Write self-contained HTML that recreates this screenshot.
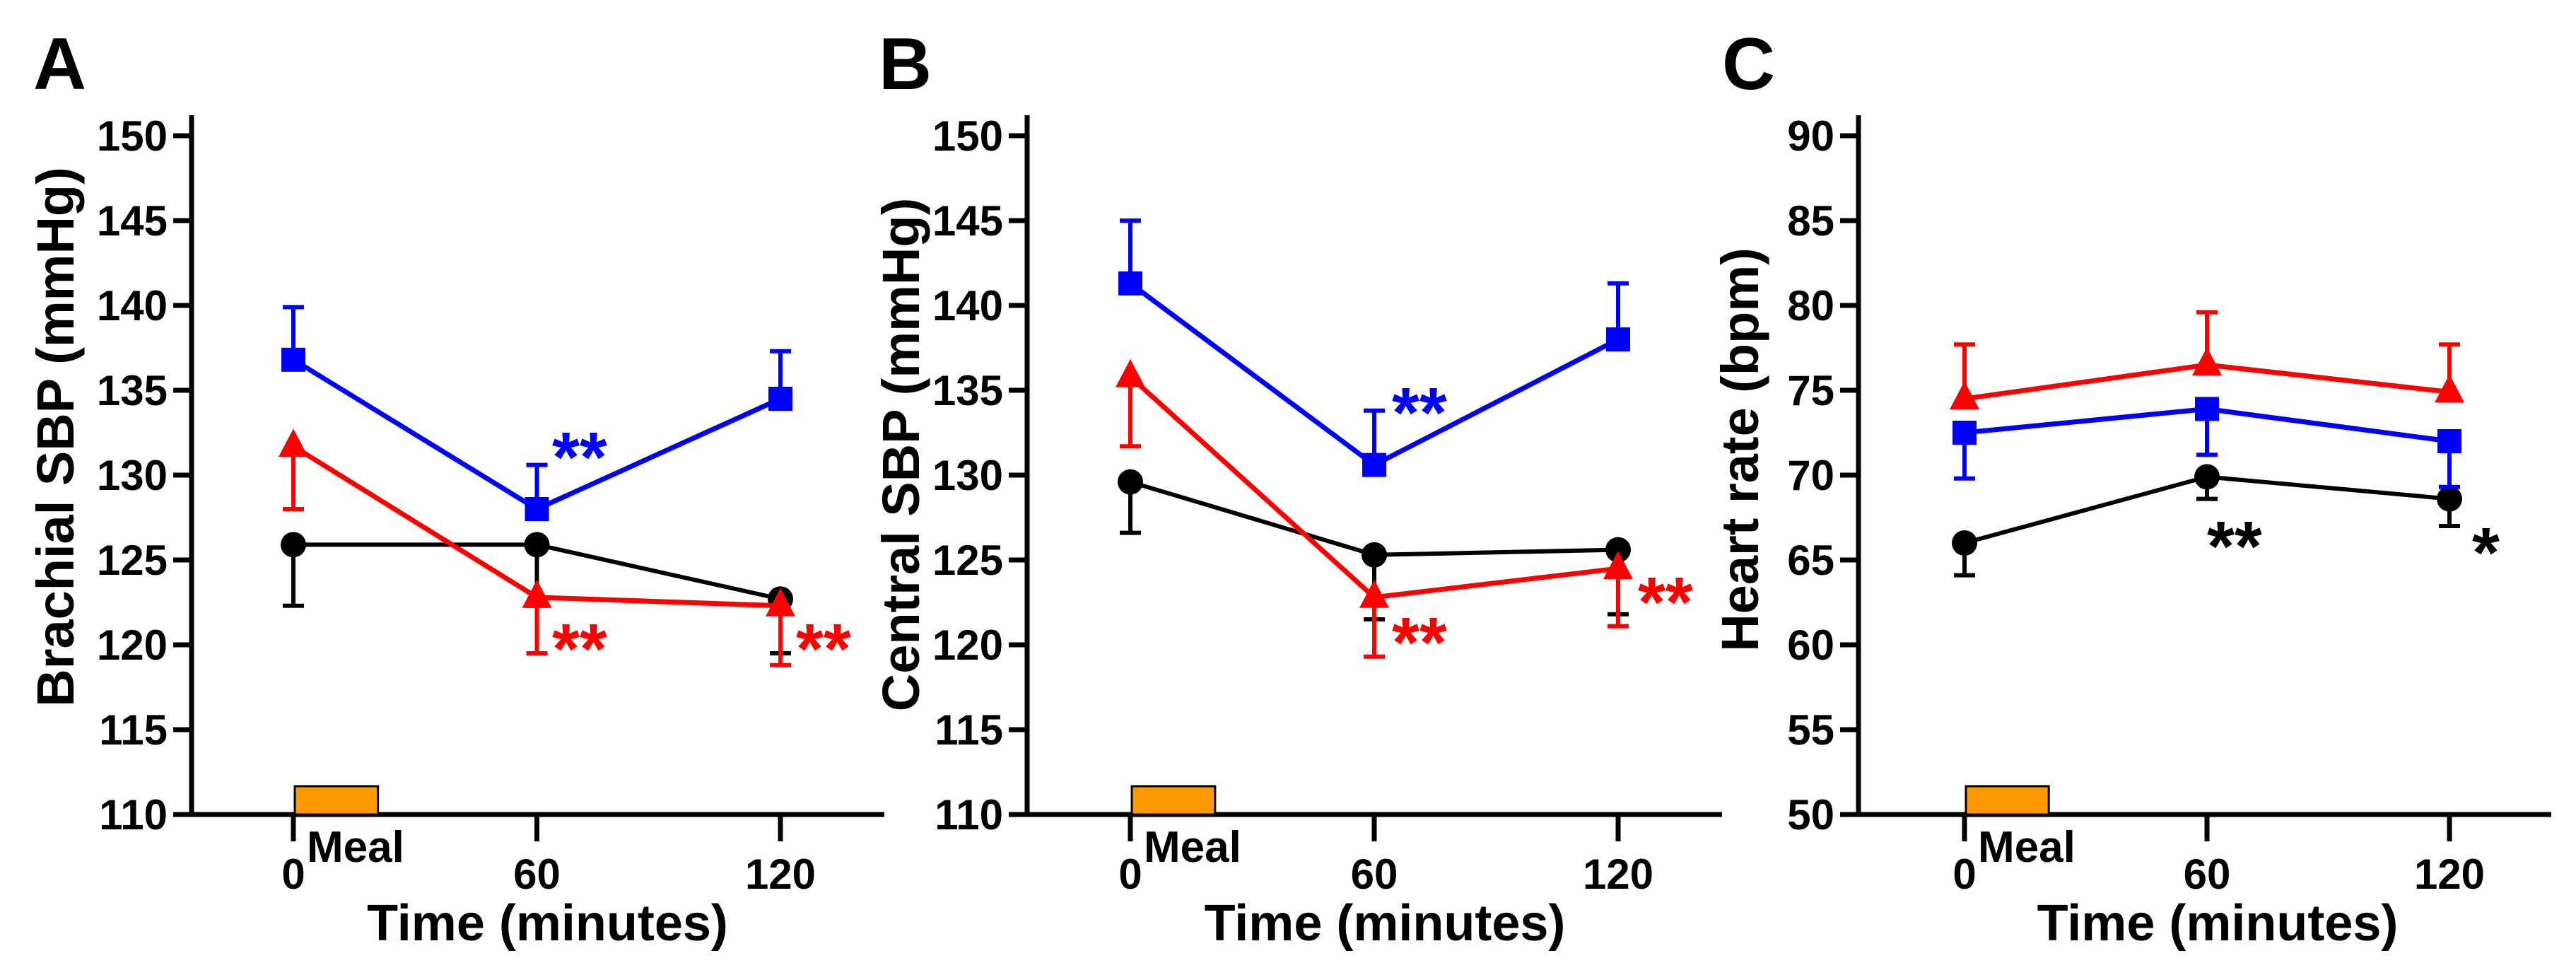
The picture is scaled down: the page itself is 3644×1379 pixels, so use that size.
<!DOCTYPE html>
<html><head><meta charset="utf-8"><style>
html,body{margin:0;padding:0;background:#fff}
svg text{font-family:"Liberation Sans",Arial,sans-serif;font-weight:bold}
</style></head><body>
<svg id="fig" width="3644" height="1374" viewBox="0 0 3644 1374" xmlns="http://www.w3.org/2000/svg"></svg>
<script>
const times = [0, 60, 120];
// Panel A: Brachial SBP
const aBlue = [136.8, 128.0, 134.5];
const aBlueErr = [139.9, 130.6, 137.3];
const aRed = [131.7, 122.8, 122.3];
const aRedErr = [128.0, 119.5, 118.8];
const aBlack = [125.9, 125.9, 122.7];
const aBlackErr = [122.3, 122.3, 119.5];
// Panel B: Central SBP
const bBlue = [141.3, 130.6, 138.0];
const bBlueErr = [145.0, 133.8, 141.3];
const bRed = [135.8, 122.8, 124.5];
const bRedErr = [131.7, 119.3, 121.1];
const bBlack = [129.6, 125.3, 125.6];
const bBlackErr = [126.6, 121.5, 121.8];
// Panel C: Heart rate
const cBlue = [72.5, 73.9, 72.0];
const cBlueErr = [69.8, 71.2, 69.3];
const cRed = [74.5, 76.5, 74.9];
const cRedErr = [77.7, 79.6, 77.7];
const cBlack = [66.0, 69.9, 68.6];
const cBlackErr = [64.1, 68.6, 67.0];
const sbpTicks = [110, 115, 120, 125, 130, 135, 140, 145, 150];
const hrTicks = [50, 55, 60, 65, 70, 75, 80, 85, 90];
const xTicks = [0, 60, 120];

const NS = "http://www.w3.org/2000/svg";
const svg = document.getElementById('fig');
function mk(tag, attrs, parent, txt){
  const e = document.createElementNS(NS, tag);
  for (const k in attrs) e.setAttribute(k, attrs[k]);
  if (txt !== undefined) e.textContent = txt;
  (parent || svg).appendChild(e);
  return e;
}

function panel(cfg){
  const g = mk('g', {});
  
  
  const y0 = 1152, y1 = 192;
  const ymin = cfg.ticks[0], ymax = cfg.ticks[cfg.ticks.length-1];
  const Y = v => y0 + (v - ymin) / (ymax - ymin) * (y1 - y0);
  const X = t => cfg.x0 + t / 60 * cfg.dx;
  const L = mk('text', {x: cfg.lx, y: 126, 'font-size': 104}, g, cfg.letter);
  
  
  const ya = mk('line', {x1: cfg.ax, y1: 163, x2: cfg.ax, y2: y0 + 3.5, stroke: '#000', 'stroke-width': 7}, g);
  
  
  const xa = mk('line', {x1: cfg.ax - 3.5, y1: y0, x2: cfg.xend, y2: y0, stroke: '#000', 'stroke-width': 7}, g);
  
  
  cfg.ticks.forEach(v => {
    mk('line', {x1: cfg.ax - 26, y1: Y(v), x2: cfg.ax, y2: Y(v), stroke: '#000', 'stroke-width': 7}, g);
    const t = mk('text', {x: cfg.ax - 34, y: Y(v) + 21, 'font-size': 60, 'text-anchor': 'end'}, g, v);
    
    
  });
  xTicks.forEach(v => {
    mk('line', {x1: X(v), y1: y0, x2: X(v), y2: y0 + 38, stroke: '#000', 'stroke-width': 7}, g);
    const t = mk('text', {x: X(v), y: 1257, 'font-size': 60, 'text-anchor': 'middle'}, g, v);
    
    
  });
  const mb = mk('rect', {x: X(0) + 2, y: y0 - 40, width: X(20.5) - X(0), height: 40, fill: '#FF9900', stroke: '#000', 'stroke-width': 3}, g);
  
  
  const mt = mk('text', {x: X(0) + 19, y: 1219, 'font-size': 62}, g, 'Meal');
  
  
  const xt = mk('text', {x: X(60) + 15, y: 1330, 'font-size': 72, 'text-anchor': 'middle'}, g, 'Time (minutes)');
  
  
  const yt = mk('text', {x: 0, y: 0, 'font-size': 74, 'text-anchor': 'middle', transform: `translate(${cfg.ytx},${cfg.yty}) rotate(-90)`}, g, cfg.ytitle);
  
  
  const series = [
    {vals: cfg.black, err: cfg.blackErr, col: '#000', sw: 6, shape: 'circle', name: 'black-series'},
    {vals: cfg.red, err: cfg.redErr, col: '#FF0000', sw: 7, shape: 'tri', name: 'red-series'},
    {vals: cfg.blue, err: cfg.blueErr, col: '#0000FF', sw: 7, shape: 'sq', name: 'blue-series'}
  ];
  series.forEach(s => {
    const sg = mk('g', {}, g);
    
    
    s.vals.forEach((v, i) => {
      const x = X(times[i]);
      mk('line', {x1: x, y1: Y(v), x2: x, y2: Y(s.err[i]), stroke: s.col, 'stroke-width': 6}, sg);
      mk('line', {x1: x - 15, y1: Y(s.err[i]), x2: x + 15, y2: Y(s.err[i]), stroke: s.col, 'stroke-width': 6}, sg);
    });
    const pts = s.vals.map((v, i) => X(times[i]) + ',' + Y(v)).join(' ');
    mk('polyline', {points: pts, fill: 'none', stroke: s.col, 'stroke-width': s.sw}, sg);
    s.vals.forEach((v, i) => {
      const x = X(times[i]), y = Y(v);
      let m;
      if (s.shape === 'circle') m = mk('circle', {cx: x, cy: y, r: 18, fill: s.col}, sg);
      else if (s.shape === 'sq') m = mk('rect', {x: x - 17, y: y - 17, width: 34, height: 34, fill: s.col}, sg);
      else m = mk('polygon', {points: `${x},${y-25} ${x-21},${y+15} ${x+21},${y+15}`, fill: s.col}, sg);
      
      
    });
  });
  cfg.stars.forEach(st => {
    const t = mk('text', {x: st[0], y: st[1] + 52, 'font-size': 100, fill: st[3]}, g, st[2]);
    
    
  });
}

panel({name: 'panel-a', letter: 'A', lx: 47, ax: 271, x0: 415, dx: 344.5, xend: 1251, ticks: sbpTicks,
  ytitle: 'Brachial SBP (mmHg)', ytx: 104, yty: 618,
  blue: aBlue, blueErr: aBlueErr, red: aRed, redErr: aRedErr, black: aBlack, blackErr: aBlackErr,
  stars: [[781, 629, '**', '#0000FF'], [781, 900, '**', '#FF0000'], [1126, 900, '**', '#FF0000']]});
panel({name: 'panel-b', letter: 'B', lx: 1243, ax: 1453, x0: 1599, dx: 345, xend: 2436, ticks: sbpTicks,
  ytitle: 'Central SBP (mmHg)', ytx: 1300, yty: 643,
  blue: bBlue, blueErr: bBlueErr, red: bRed, redErr: bRedErr, black: bBlack, blackErr: bBlackErr,
  stars: [[1969, 566, '**', '#0000FF'], [1969, 891, '**', '#FF0000'], [2317, 834, '**', '#FF0000']]});
panel({name: 'panel-c', letter: 'C', lx: 2436, ax: 2629, x0: 2779, dx: 343, xend: 3609, ticks: hrTicks,
  ytitle: 'Heart rate (bpm)', ytx: 2487, yty: 636,
  blue: cBlue, blueErr: cBlueErr, red: cRed, redErr: cRedErr, black: cBlack, blackErr: cBlackErr,
  stars: [[3122, 755, '**', '#000'], [3497, 764, '*', '#000']]});
</script>
</body></html>
